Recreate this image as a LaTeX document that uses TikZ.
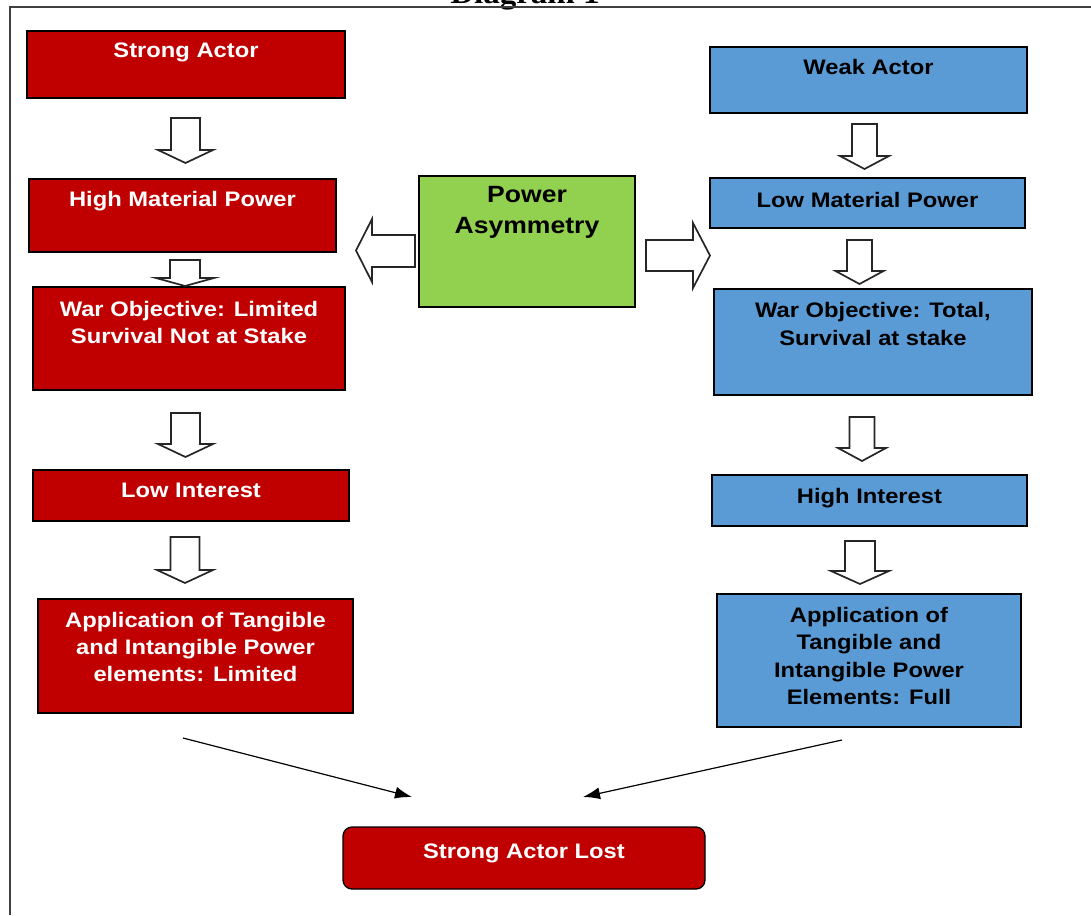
\documentclass[tikz,border=0pt]{standalone}
\usepackage{fontspec}
\usetikzlibrary{arrows.meta}
\newfontfamily\boxfont[FakeStretch=1.13]{Liberation Sans}
\newfontfamily\ttlfont[FakeStretch=1.1]{Liberation Serif}
\definecolor{redf}{HTML}{C00000}
\definecolor{bluef}{HTML}{5B9BD5}
\definecolor{greenf}{HTML}{92D050}
\newcommand\blkdn[6]{% xc, ytop, ybot, headhalf, shafthalf, headlen
  \draw[blk] ({#1-#5},#2) -- ({#1+#5},#2) -- ({#1+#5},{#3-#6}) -- ({#1+#4},{#3-#6}) -- (#1,#3) -- ({#1-#4},{#3-#6}) -- ({#1-#5},{#3-#6}) -- cycle;}
\begin{document}
\begin{tikzpicture}[x=1pt,y=-1pt,
  box/.style={draw=black, line width=1.3pt, inner sep=0pt, outer sep=0pt},
  rbox/.style={box, fill=redf},
  bbox/.style={box, fill=bluef},
  gbox/.style={box, fill=greenf},
  wt/.style={text=white, font=\boxfont\bfseries\fontsize{21}{27}\selectfont, align=center, inner sep=0pt, anchor=north},
  bt/.style={wt, text=black},
  gt/.style={bt, font=\boxfont\bfseries\fontsize{23.5}{31}\selectfont},
  blk/.style={draw=black!85, line width=1.7pt, fill=white, line join=miter},
  ln/.style={draw=black, line width=1.2pt, -{Latex[length=17pt,width=12pt]}}]
\useasboundingbox (0,0) rectangle (1091,915);
% frame and title
\node[font=\ttlfont\bfseries\fontsize{30}{34}\selectfont, anchor=base, inner sep=0pt] (title) at (525,4) {Diagram 1};
\draw[line width=1.8pt, draw=black!75] (10,915) -- (10,7) -- (1091,7);
% left column
\node[rbox, minimum width=318pt, minimum height=67pt, label={[wt,yshift=-12pt]north:{Strong Actor}}] (sa) at (186,64.5) {};
\node[rbox, minimum width=307pt, minimum height=73pt, label={[wt,yshift=-12pt]north:{High Material Power}}] (hmp) at (182.5,215.5) {};
\node[rbox, minimum width=312pt, minimum height=103pt, label={[wt,yshift=-14pt]north:{War Objective: Limited\\Survival Not at Stake}}] (wol) at (189,338.5) {};
\node[rbox, minimum width=316pt, minimum height=51pt, label={[wt,yshift=-13pt]north:{Low Interest}}] (li) at (191,495.5) {};
\node[rbox, minimum width=315pt, minimum height=114pt, label={[wt,yshift=-13pt]north:{Application of Tangible\\and Intangible Power\\elements: Limited}}] (atl) at (195.5,656) {};
% right column
\node[bbox, minimum width=317pt, minimum height=66pt, label={[bt,yshift=-12pt]north:{Weak Actor}}] (wa) at (868.5,80) {};
\node[bbox, minimum width=315pt, minimum height=50pt, label={[bt,yshift=-14pt]north:{Low Material Power}}] (lmp) at (867.5,203) {};
\node[bbox, minimum width=318pt, minimum height=106pt, label={[bt,yshift=-13pt,font=\boxfont\bfseries\fontsize{21}{28}\selectfont]north:{War Objective: Total,\\Survival at stake}}] (wot) at (873,342) {};
\node[bbox, minimum width=315pt, minimum height=51pt, label={[bt,yshift=-13pt]north:{High Interest}}] (hi) at (869.5,500.5) {};
\node[bbox, minimum width=304pt, minimum height=133pt, label={[bt,yshift=-13pt,font=\boxfont\bfseries\fontsize{21}{27.5}\selectfont]north:{Application of\\Tangible and\\Intangible Power\\Elements: Full}}] (atf) at (869,660.5) {};
% centre
\node[gbox, minimum width=216pt, minimum height=131pt, label={[gt,yshift=-10pt]north:{Power\\Asymmetry}}] (pa) at (527,241.5) {};
% bottom
\node[rbox, rounded corners=9pt, minimum width=362pt, minimum height=62pt, label={[wt,yshift=-17pt]north:{Strong Actor Lost}}] (sal) at (524,858) {};
% block arrows, left
\blkdn{185.5}{118}{163}{27.5}{14.5}{13}
\blkdn{185}{260}{286}{29}{15}{8}
\blkdn{185.5}{413}{457}{27.5}{14.5}{13}
\blkdn{185}{537}{583}{28}{14.5}{13}
% block arrows, right
\blkdn{864.5}{124}{169}{24.5}{12.5}{13}
\blkdn{859.5}{240}{284}{24}{12.5}{13}
\blkdn{862}{417}{461}{24}{12.5}{13}
\blkdn{860}{541}{584}{29}{15}{13}
% horizontal block arrows from the centre box
\draw[blk] (415,235) -- (372,235) -- (372,219) -- (356,250.5) -- (372,282) -- (372,267) -- (415,267) -- cycle;
\draw[blk] (646,240) -- (693,240) -- (693,223) -- (710,255.5) -- (693,288) -- (693,271) -- (646,271) -- cycle;
% line arrows
\coordinate (la) at (183,738);
\coordinate (lb) at (412,797);
\coordinate (ra) at (842,740);
\coordinate (rb) at (583,797);
\draw[ln] (la) -- (lb);
\draw[ln] (ra) -- (rb);
\end{tikzpicture}
\end{document}
